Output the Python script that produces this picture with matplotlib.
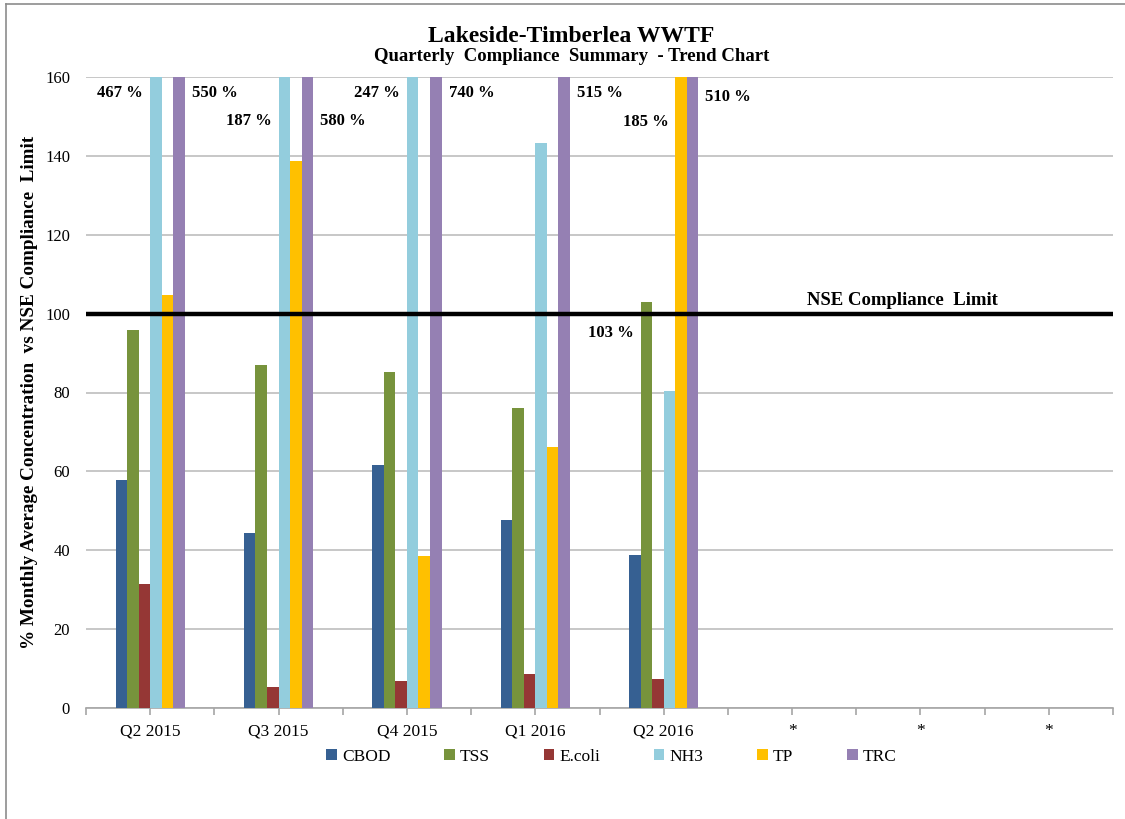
import numpy as np
import matplotlib
matplotlib.use("Agg")
import matplotlib.pyplot as plt
from matplotlib.lines import Line2D

plt.rcParams['font.family'] = ['Liberation Serif', 'DejaVu Serif']

# quarterly % of NSE compliance limit
quarters = ['Q2 2015', 'Q3 2015', 'Q4 2015', 'Q1 2016', 'Q2 2016', '*', '*', '*']
series = ['CBOD', 'TSS', 'E.coli', 'NH3', 'TP', 'TRC']
colors = ['#366092', '#77933C', '#953735', '#93CDDD', '#FFC000', '#9580B3']

cbod = [57.8, 44.3, 61.6, 47.6, 38.7]
tss = [95.9, 87.0, 85.3, 76.0, 103]
ecoli = [31.4, 5.2, 6.8, 8.6, 7.3]
nh3 = [467, 187, 247, 143.3, 80.5]
tp = [104.7, 138.8, 38.5, 66.2, 185]
trc = [550, 580, 740, 515, 510]
values = [cbod, tss, ecoli, nh3, tp, trc]

# labels for bars running off the top (or crossing the limit)
# (quarter index, series index, side, y position)
callouts = [
    (0, 3, 'left', 156), (0, 5, 'right', 156),
    (1, 3, 'left', 148.8), (1, 5, 'right', 148.8),
    (2, 3, 'left', 156), (2, 5, 'right', 156),
    (3, 5, 'right', 156),
    (4, 4, 'left', 148.5), (4, 5, 'right', 155),
    (4, 1, 'left', 95),
]

limit = 100

fig = plt.figure(figsize=(11.25, 8.19), dpi=100)
ax = fig.add_axes([86 / 1125, 1 - 708 / 819, 1027 / 1125, 631 / 819])

w = 0.09
x = np.arange(len(quarters))
for i, (name, vals) in enumerate(zip(series, values)):
    xs = x[:len(vals)] + (i - 2.5) * w
    ax.bar(xs, vals, width=w, color=colors[i], label=name, zorder=3)

ax.axhline(limit, color='black', lw=3.2, zorder=4)
ax.text(5.86, limit + 1.2, 'NSE Compliance  Limit', ha='center', va='bottom',
        fontsize=13.5, fontweight='bold')

for q, s, side, yy in callouts:
    bx = q + (s - 2.5) * w
    val = values[s][q]
    if side == 'left':
        ax.annotate(f'{val:.0f} %', xy=(bx - w / 2, yy), xytext=(-5, 0),
                    textcoords='offset points', ha='right', va='center',
                    fontsize=12, fontweight='bold')
    else:
        ax.annotate(f'{val:.0f} %', xy=(bx + w / 2, yy), xytext=(5, 0),
                    textcoords='offset points', ha='left', va='center',
                    fontsize=12, fontweight='bold')

ax.set_xlim(-0.5, len(quarters) - 0.5)
ax.set_ylim(0, 160)
ax.set_yticks(np.arange(0, 161, 20))
ax.yaxis.grid(True, color='#BEBEBE', lw=1.2, zorder=0)
ax.tick_params(axis='y', length=0, pad=11.5, labelsize=12)

ax.set_xticks(x)
ax.set_xticklabels(quarters, fontsize=12.5)
ax.set_xticks(np.arange(-0.5, len(quarters)), minor=True)
ax.tick_params(axis='x', which='both', length=5, color='#A6A6A6', width=1.2, pad=6)

for side in ['top', 'right', 'left']:
    ax.spines[side].set_visible(False)
ax.spines['bottom'].set_color('#A6A6A6')
ax.spines['bottom'].set_linewidth(1.2)

ax.set_ylabel('% Monthly Average Concentration  vs NSE Compliance  Limit',
              fontsize=13.8, fontweight='bold', labelpad=5)

fig.text(0.508, 0.955, 'Lakeside-Timberlea WWTF', ha='center', va='center',
         fontsize=17, fontweight='bold')
fig.text(0.508, 0.931, 'Quarterly  Compliance  Summary  - Trend Chart', ha='center',
         va='center', fontsize=13.5, fontweight='bold')

fig.legend(loc='center', bbox_to_anchor=(0.5435, 0.0757), ncol=6, frameon=False,
           fontsize=12.5, handlelength=0.6, handleheight=0.6, handletextpad=0.3,
           columnspacing=3.1)

# chart border (left and top edges)
fig.add_artist(Line2D([6 / 1125, 6 / 1125], [0, 1 - 4 / 819], color='#8C8C8C', lw=1.2))
fig.add_artist(Line2D([6 / 1125, 1], [1 - 4 / 819, 1 - 4 / 819], color='#8C8C8C', lw=1.2))

fig.savefig('out.png', dpi=100)
